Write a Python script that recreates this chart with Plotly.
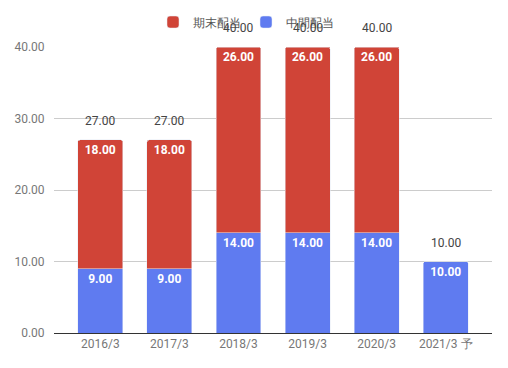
import plotly.graph_objects as go

categories = ["2016/3", "2017/3", "2018/3", "2019/3", "2020/3", "2021/3 予"]
interim = [9, 9, 14, 14, 14, 10]          # 中間配当
year_end = [18, 18, 26, 26, 26, None]     # 期末配当
totals = [27, 27, 40, 40, 40, 10]
y_ticks = [0, 10, 20, 30, 40]

RED = "#d04437"
BLUE = "#5f7bf0"
FONT = "Roboto, Arial, sans-serif"

fig = go.Figure()
fig.add_trace(go.Bar(
    x=categories, y=interim, name="中間配当", marker_color=BLUE,
    texttemplate="%{y:.2f}", textposition="inside", insidetextanchor="end",
    textfont=dict(color="white", size=12, family=FONT, weight="bold"),
    legendrank=2, hoverinfo="skip",
))
fig.add_trace(go.Bar(
    x=categories, y=year_end, name="期末配当", marker_color=RED,
    texttemplate="%{y:.2f}", textposition="inside", insidetextanchor="end",
    textfont=dict(color="white", size=12, family=FONT, weight="bold"),
    legendrank=1, hoverinfo="skip",
))
for c, t in zip(categories, totals):
    fig.add_annotation(x=c, y=t, text=f"{t:.2f}", showarrow=False,
                       yshift=19, font=dict(size=12, color="#444", family=FONT))

# page body adds an 8px offset, so the figure is 8px smaller on each axis
fig.update_layout(
    width=500, height=360, barmode="stack", bargap=0.35, barcornerradius=2,
    margin=dict(l=46, r=16, t=39, b=35, autoexpand=False),
    paper_bgcolor="white", plot_bgcolor="white",
    font=dict(family=FONT, size=12, color="#555"),
    legend=dict(orientation="h", traceorder="normal", x=0.29, xanchor="left",
                xref="container", y=0.961, yanchor="middle", yref="container",
                font=dict(size=12, color="#555")),
)
fig.update_xaxes(range=[-0.67, 5.67], showline=True, linecolor="#333", linewidth=1,
                 ticks="", tickfont=dict(size=12, color="#777"), showgrid=False)
fig.update_yaxes(range=[0, 40], tickvals=y_ticks, tickformat=".2f", showgrid=True,
                 gridcolor="#cccccc", zeroline=True, zerolinecolor="#333", zerolinewidth=1,
                 tickfont=dict(size=12, color="#777"), ticks="outside", ticklen=0,
                 ticklabelstandoff=6)
fig.write_html("out.html")
